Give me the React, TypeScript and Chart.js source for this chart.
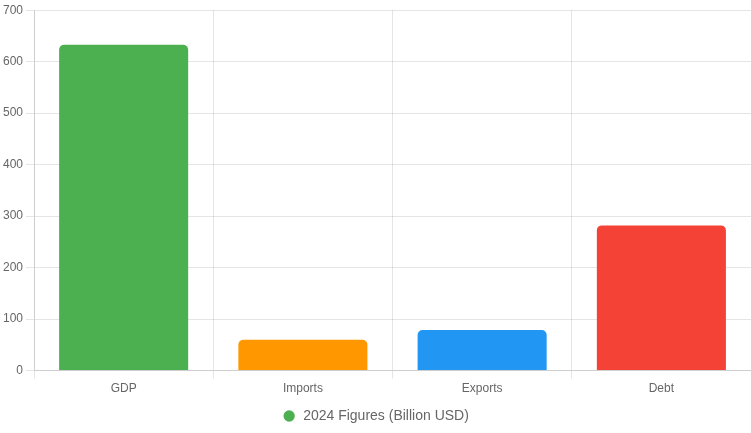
import { useEffect, useRef } from 'react';
import Chart from 'chart.js/auto';

const categories = ['GDP', 'Imports', 'Exports', 'Debt'];
const values = [633, 60, 79, 282];
const barColors = ['#4CAF50', '#FF9800', '#2196F3', '#F44336'];
const seriesLabel = '2024 Figures (Billion USD)';

export default function App() {
    const chartRef = useRef<HTMLCanvasElement>(null);
    const chartInstance = useRef<Chart | null>(null);

    useEffect(() => {
        document.body.style.margin = '0';
        if (!chartRef.current) return;
        const ctx = chartRef.current.getContext('2d');
        if (!ctx) return;

        chartInstance.current = new Chart(ctx, {
            type: 'bar',
            data: {
                labels: categories,
                datasets: [
                    {
                        label: seriesLabel,
                        data: values,
                        backgroundColor: barColors,
                        borderRadius: 5,
                        borderSkipped: 'bottom',
                    }
                ]
            },
            options: {
                responsive: true,
                maintainAspectRatio: false,
                animation: false,
                plugins: {
                    legend: {
                        position: 'bottom',
                        labels: {
                            usePointStyle: true,
                            pointStyle: 'circle',
                            boxWidth: 14,
                            boxHeight: 8,
                            font: { size: 14 },
                            color: '#666'
                        }
                    },
                    title: { display: false }
                },
                scales: {
                    x: {
                        grid: { color: 'rgba(0, 0, 0, 0.1)' },
                        ticks: { color: '#666', font: { size: 12 } }
                    },
                    y: {
                        beginAtZero: true,
                        max: 700,
                        ticks: { stepSize: 100, color: '#666', font: { size: 12 } },
                        grid: { color: 'rgba(0, 0, 0, 0.1)' }
                    }
                }
            }
        });

        return () => {
            if (chartInstance.current) {
                chartInstance.current.destroy();
                chartInstance.current = null;
            }
        };
    }, []);

    return (
        <div style={{ position: 'relative', width: '751px', height: '433px' }}>
            <canvas ref={chartRef} />
        </div>
    );
}
